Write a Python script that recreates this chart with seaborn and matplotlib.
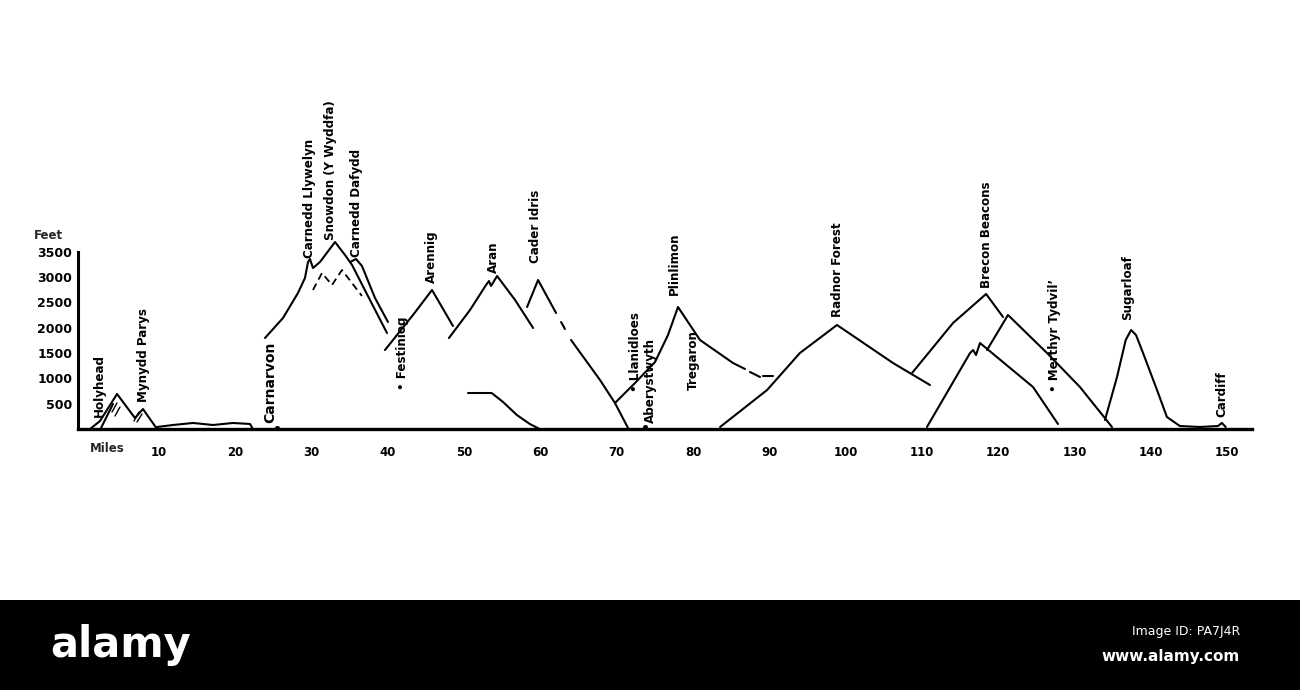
import matplotlib
matplotlib.use("Agg")
import matplotlib.pyplot as plt
import seaborn as sns
import pandas as pd
from matplotlib.patches import Rectangle

sns.set_theme(style="white")
plt.rcParams['font.family'] = ['DejaVu Sans']

# ---------------- data (miles, feet) ----------------
anglesey_miles = [0.96, 2.27, 4.5, 6.85, 7.9, 9.74]
anglesey_feet = [0, 158, 692, 217, 395, 0]
anglesey_inner_miles = [2.4, 3.97]
anglesey_inner_feet = [20, 494]
hatch1_miles = [3.84, 4.5]
hatch1_feet = [336, 514]
hatch2_miles = [4.23, 4.89]
hatch2_feet = [257, 435]
hatch3_miles = [6.72, 7.38]
hatch3_feet = [158, 336]
hatch4_miles = [7.12, 7.77]
hatch4_feet = [138, 296]
lowland_miles = [9.74, 11.84, 14.46, 17.08, 19.7, 21.93, 22.3]
lowland_feet = [40, 79, 119, 79, 119, 99, 0]

snowdon_miles = [23.89, 26.25, 28.21, 29.13, 29.53, 29.79, 30.18, 31.1, 33.07, 34.38, 35.3, 37.65, 39.88]
snowdon_feet = [1798, 2193, 2687, 2984, 3300, 3359, 3181, 3300, 3695, 3438, 3241, 2549, 1897]
dafydd_miles = [35.06, 35.82, 36.6, 38.31, 40.01]
dafydd_feet = [3300, 3359, 3221, 2589, 2114]
wyddfa_inner_miles = [30.18, 31.36, 32.67, 33.98, 36.6]
wyddfa_inner_feet = [2747, 3083, 2845, 3142, 2628]

arennig_miles = [39.62, 43.29, 45.78, 48.53]
arennig_feet = [1561, 2253, 2747, 2035]
aran_miles = [48.0, 50.76, 52.86, 53.25, 53.52, 54.31, 56.67, 59.03]
aran_feet = [1798, 2351, 2845, 2924, 2826, 3023, 2549, 1996]
cader_miles = [58.24, 59.68, 62.04]
cader_feet = [2411, 2944, 2292]
cader_mid_miles = [62.7, 63.2]
cader_mid_feet = [2114, 1976]
cader_down_miles = [64.0, 67.8, 69.76, 71.47]
cader_down_feet = [1759, 968, 514, 20]
bala_miles = [50.5, 53.1, 53.6, 55.09, 56.9, 58.6, 59.9]
bala_feet = [711, 711, 711, 534, 277, 99, 0]

plinlimon_miles = [69.76, 72.39, 75.01, 76.71, 78.02, 80.9, 85.23, 86.8]
plinlimon_feet = [514, 909, 1324, 1857, 2411, 1759, 1304, 1186]
tregaron_miles = [87.46, 88.77]
tregaron_feet = [1126, 1028]
tregaron_end_miles = [89.16, 90.47]
tregaron_end_feet = [1047, 1047]

radnor_miles = [83.54, 89.7, 94.0, 98.86, 106.2, 111.05]
radnor_feet = [40, 771, 1502, 2055, 1304, 869]
brecon_miles = [108.7, 114.07, 118.4, 120.62]
brecon_feet = [1107, 2095, 2668, 2213]
merthyr_ridge_miles = [118.52, 121.27, 126.38, 130.7, 134.9]
merthyr_ridge_feet = [1561, 2253, 1502, 830, 40]
inner_peak_miles = [110.65, 116.3, 116.7, 117.08, 117.6, 124.55, 127.82]
inner_peak_feet = [40, 1502, 1561, 1462, 1699, 830, 99]
sugarloaf_miles = [133.98, 135.56, 136.7, 137.4, 138.05, 138.97, 140.8, 142.1, 143.8, 146.4, 148.8, 149.3, 149.8]
sugarloaf_feet = [178, 1028, 1759, 1956, 1857, 1502, 771, 237, 59, 40, 59, 119, 40]

town_dot_miles = [25.5, 73.7]
town_dot_feet = [20, 40]

label_names = ["Holyhead", "Mynydd Parys", "Carnarvon", "Carnedd Llywelyn",
               "Snowdon (Y Wyddfa)", "Carnedd Dafydd", "• Festiniog", "Arennig",
               "Aran", "Cader Idris", "• Llanidloes", "Aberystwyth", "Plinlimon",
               "Tregaron", "Radnor Forest", "Brecon Beacons", "• Merthyr Tydvil’",
               "Sugarloaf", "Cardiff"]
label_miles = [2.14, 7.97, 24.55, 29.66, 32.54, 35.95, 41.85, 45.65, 53.8, 59.3,
               72.4, 74.4, 77.6, 80.1, 98.9, 118.4, 127.4, 136.9, 149.3]
label_feet = [237, 534, 119, 3379, 3735, 3399, 771, 2885, 3083, 3280,
              731, 119, 2648, 771, 2213, 2786, 731, 2154, 237]

feet_ticks = [500, 1000, 1500, 2000, 2500, 3000, 3500]
mile_ticks = [10, 20, 30, 40, 50, 60, 70, 80, 90, 100, 110, 120, 130, 140, 150]

# ---------------- build tables ----------------
solid = {
    "anglesey": (anglesey_miles, anglesey_feet),
    "anglesey_inner": (anglesey_inner_miles, anglesey_inner_feet),
    "lowland": (lowland_miles, lowland_feet),
    "snowdon": (snowdon_miles, snowdon_feet),
    "dafydd": (dafydd_miles, dafydd_feet),
    "arennig": (arennig_miles, arennig_feet),
    "aran": (aran_miles, aran_feet),
    "cader": (cader_miles, cader_feet),
    "cader_mid": (cader_mid_miles, cader_mid_feet),
    "cader_down": (cader_down_miles, cader_down_feet),
    "bala": (bala_miles, bala_feet),
    "plinlimon": (plinlimon_miles, plinlimon_feet),
    "tregaron": (tregaron_miles, tregaron_feet),
    "tregaron_end": (tregaron_end_miles, tregaron_end_feet),
    "radnor": (radnor_miles, radnor_feet),
    "brecon": (brecon_miles, brecon_feet),
    "merthyr": (merthyr_ridge_miles, merthyr_ridge_feet),
    "inner": (inner_peak_miles, inner_peak_feet),
    "sugarloaf": (sugarloaf_miles, sugarloaf_feet),
}
hatches = {
    "h1": (hatch1_miles, hatch1_feet),
    "h2": (hatch2_miles, hatch2_feet),
    "h3": (hatch3_miles, hatch3_feet),
    "h4": (hatch4_miles, hatch4_feet),
}


def to_frame(groups):
    rows = []
    for name, (xs, ys) in groups.items():
        for x, y in zip(xs, ys):
            rows.append({"segment": name, "miles": x, "feet": y})
    return pd.DataFrame(rows)


df = to_frame(solid)
df_hatch = to_frame(hatches)
df_inner = pd.DataFrame({"miles": wyddfa_inner_miles, "feet": wyddfa_inner_feet, "segment": "w"})

# ---------------- figure ----------------
W, H = 1300, 690
fig = plt.figure(figsize=(W / 100, H / 100), dpi=100)
fig.patch.set_facecolor("white")
ax = fig.add_axes([0, 0, 1, 1])
ax.set_facecolor("white")

px_per_mile = 7.63
x0_px = 82.7
base_px = 429
ft_per_px = 19.76
ax.set_xlim(-x0_px / px_per_mile, (W - x0_px) / px_per_mile)
ax.set_ylim((base_px - H) * ft_per_px, base_px * ft_per_px)

sns.lineplot(data=df, x="miles", y="feet", units="segment", estimator=None,
             sort=False, color="black", lw=1.5, ax=ax, legend=False)
sns.lineplot(data=df_hatch, x="miles", y="feet", units="segment", estimator=None,
             sort=False, color="black", lw=1.0, ax=ax, legend=False)
sns.lineplot(data=df_inner, x="miles", y="feet", units="segment", estimator=None,
             sort=False, color="black", lw=1.3, ax=ax, legend=False, linestyle=(0, (4, 2.5)))
sns.scatterplot(x=town_dot_miles, y=town_dot_feet, color="black", s=12, ax=ax,
                edgecolor="black", legend=False, zorder=5)

for name, x, y in zip(label_names, label_miles, label_feet):
    size = 10 if name == "Carnarvon" else 8.6
    ax.text(x, y, name, rotation=90, ha="center", va="bottom", fontsize=size,
            color="black", fontweight="bold")

# axes spines
for s in ["top", "right"]:
    ax.spines[s].set_visible(False)
left_x = (78 - x0_px) / px_per_mile
right_x = (1252 - x0_px) / px_per_mile
ax.spines["left"].set_position(("data", left_x))
ax.spines["left"].set_bounds(0, 3500)
ax.spines["left"].set_linewidth(2.2)
ax.spines["left"].set_color("black")
ax.spines["bottom"].set_position(("data", 0))
ax.spines["bottom"].set_bounds(left_x, right_x)
ax.spines["bottom"].set_linewidth(2.4)
ax.spines["bottom"].set_color("black")

ax.set_xticks(mile_ticks)
ax.set_xticklabels([str(t) for t in mile_ticks], fontsize=8.5, fontweight="bold")
ax.set_yticks(feet_ticks)
ax.set_yticklabels([str(t) for t in feet_ticks], fontsize=9, fontweight="bold")
ax.tick_params(axis="x", direction="out", length=5, width=1.5, pad=7, colors="black")
ax.tick_params(axis="y", direction="in", length=7, width=1.8, pad=4, colors="black")
ax.set_xlabel("")
ax.set_ylabel("")
ax.text(-4.55, 3833, "Feet", ha="center", va="center", fontsize=8.5, fontweight="bold")
ax.text((107 - x0_px) / px_per_mile, (base_px - 449) * ft_per_px, "Miles",
        ha="center", va="center", fontsize=8.5, fontweight="bold")

# stock-image banner at the bottom
fig.add_artist(Rectangle((0, 0), 1, 90 / H, transform=fig.transFigure,
                         facecolor="black", edgecolor="none", zorder=10))
fig.text(50 / W, (H - 645) / H, "alamy", color="white", fontsize=30,
         fontweight="bold", ha="left", va="center", zorder=11,
         family=["Liberation Sans Narrow", "DejaVu Sans"])
fig.text(1240 / W, (H - 631) / H, "Image ID: PA7J4R", color="white", fontsize=9,
         ha="right", va="center", zorder=11)
fig.text(1240 / W, (H - 656) / H, "www.alamy.com", color="white", fontsize=11,
         fontweight="bold", ha="right", va="center", zorder=11)

fig.savefig("out.png", dpi=100, facecolor="white")
